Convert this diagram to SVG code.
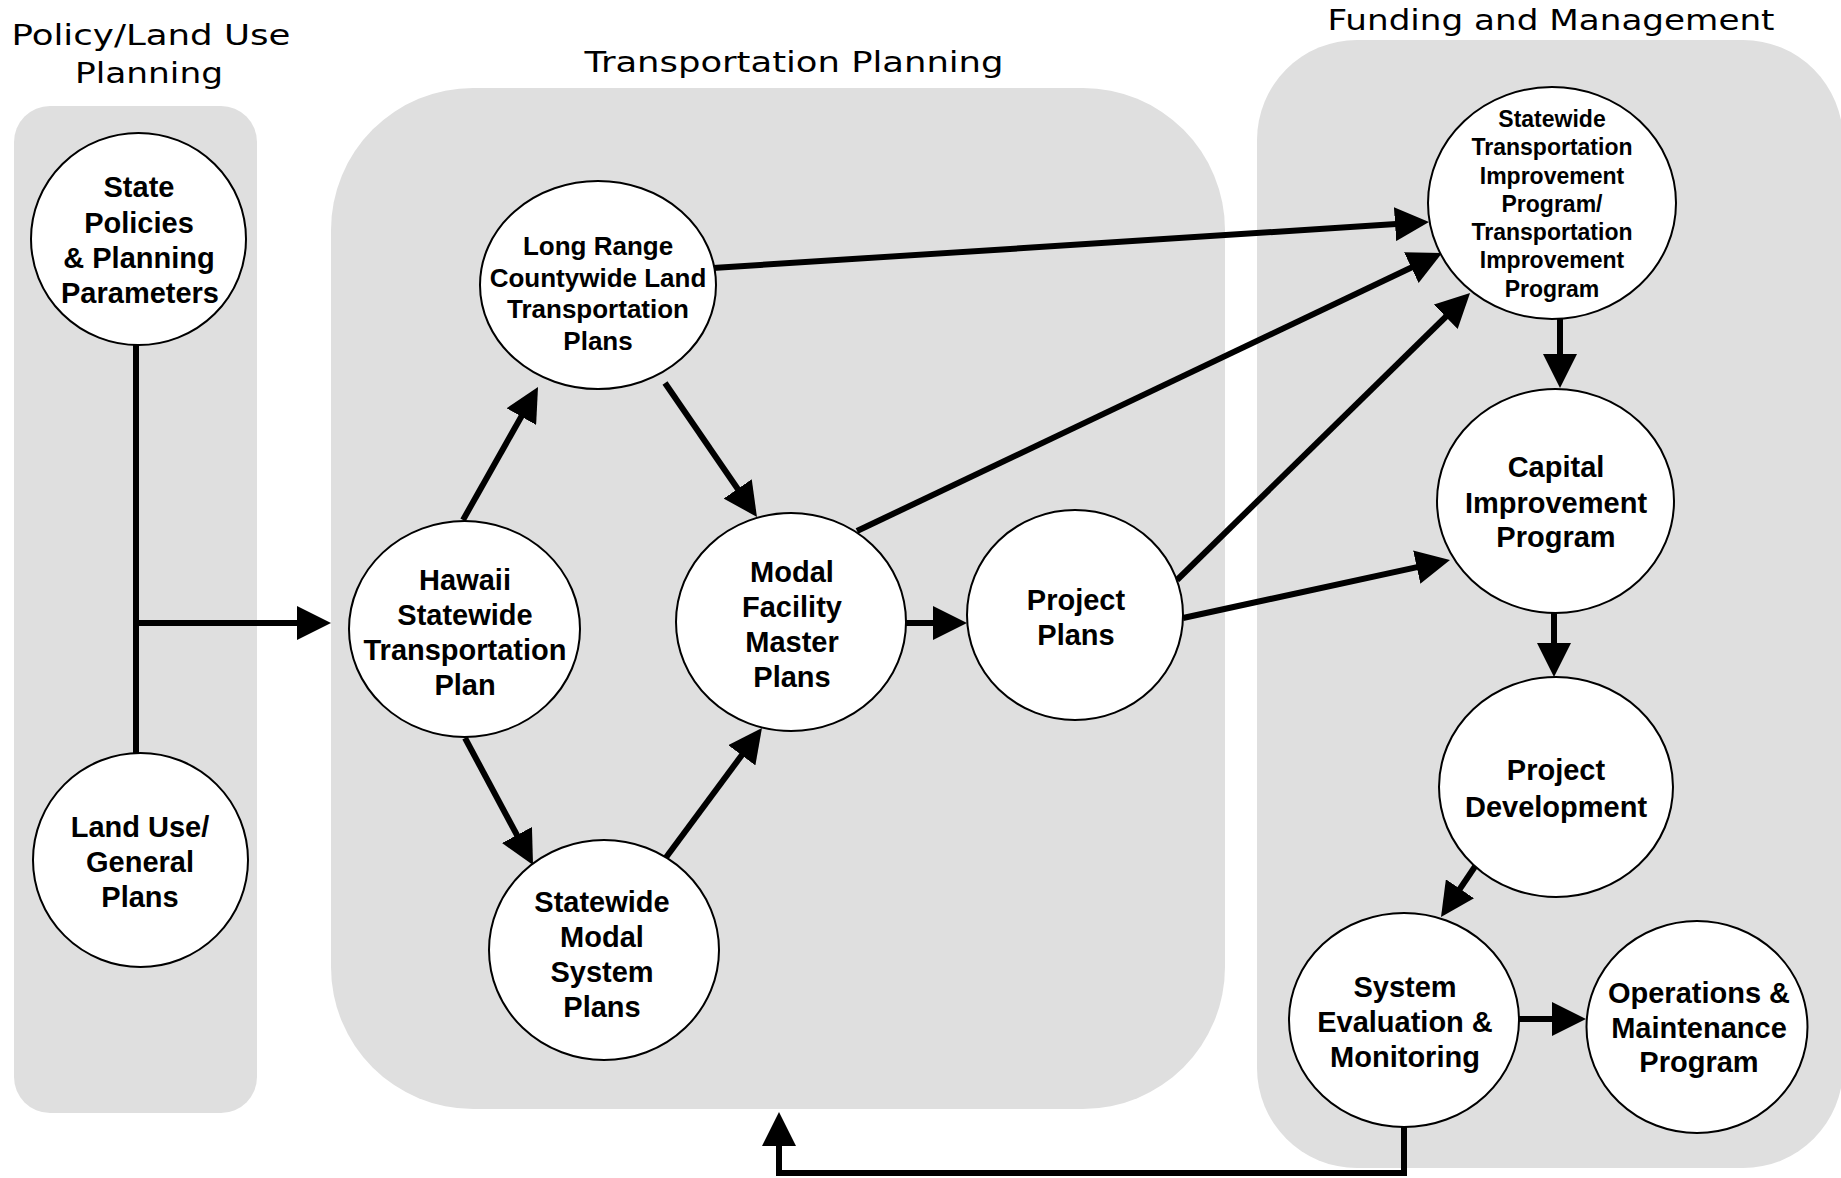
<svg xmlns="http://www.w3.org/2000/svg" width="1841" height="1178" viewBox="0 0 1841 1178">
  <style>
    .panel { fill: #dfdfdf; stroke: none; }
    .title { font-family: "DejaVu Sans", "Liberation Sans", sans-serif; font-size: 29px; fill: #000; text-anchor: middle; }
    .node ellipse { fill: #fff; stroke: #000; stroke-width: 2; }
    .node text { font-family: "Liberation Sans", Arial, sans-serif; font-weight: bold; font-size: 29px; fill: #000; text-anchor: middle; }
    .node.small text { font-size: 26px; }
    .node.tiny text { font-size: 23px; }
    .edge { fill: none; stroke: #000; stroke-width: 6; }
  </style>
  <defs>
    <marker id="arrow" viewBox="0 0 34 34" markerUnits="userSpaceOnUse" markerWidth="34" markerHeight="34" refX="24" refY="17" orient="auto">
      <path d="M0,0 L34,17 L0,34 z" fill="#000"/>
    </marker>
  </defs>

  <rect width="1841" height="1178" fill="#fff"/>

  <!-- swimlane backgrounds -->
  <g id="lanes">
    <rect class="panel" x="14" y="106" width="243" height="1007" rx="36" ry="36"/>
    <rect class="panel" x="331" y="88" width="894" height="1021" rx="142" ry="142"/>
    <rect class="panel" x="1257" y="40" width="586" height="1128" rx="100" ry="100"/>
  </g>

  <g id="titles">
    <text class="title" x="151" y="45" textLength="279" lengthAdjust="spacingAndGlyphs">Policy/Land Use</text>
    <text class="title" x="149" y="83" textLength="148" lengthAdjust="spacingAndGlyphs">Planning</text>
    <text class="title" x="794" y="72" textLength="419" lengthAdjust="spacingAndGlyphs">Transportation Planning</text>
    <text class="title" x="1551" y="30" textLength="447" lengthAdjust="spacingAndGlyphs">Funding and Management</text>
  </g>

  <!-- connectors -->
  <g id="connectors">
    <line class="edge" x1="136" y1="345" x2="136" y2="757"/>
    <line class="edge" x1="133" y1="623" x2="321" y2="623" marker-end="url(#arrow)"/>
    <line class="edge" x1="463" y1="520" x2="533.1" y2="395.7" marker-end="url(#arrow)"/>
    <line class="edge" x1="665" y1="383" x2="751.3" y2="508.7" marker-end="url(#arrow)"/>
    <line class="edge" x1="465" y1="738" x2="528.3" y2="856.2" marker-end="url(#arrow)"/>
    <line class="edge" x1="665.6" y1="858" x2="756" y2="736" marker-end="url(#arrow)"/>
    <line class="edge" x1="905" y1="623" x2="957" y2="623" marker-end="url(#arrow)"/>
    <line class="edge" x1="713" y1="268" x2="1419" y2="222.6" marker-end="url(#arrow)"/>
    <line class="edge" x1="857" y1="531" x2="1433" y2="257.3" marker-end="url(#arrow)"/>
    <line class="edge" x1="1177" y1="580" x2="1462.9" y2="300" marker-end="url(#arrow)"/>
    <line class="edge" x1="1183" y1="618" x2="1440.2" y2="562.1" marker-end="url(#arrow)"/>
    <line class="edge" x1="1560" y1="319" x2="1560" y2="378" marker-end="url(#arrow)"/>
    <line class="edge" x1="1554" y1="613" x2="1554" y2="667" marker-end="url(#arrow)"/>
    <line class="edge" x1="1476" y1="865" x2="1446.6" y2="908.7" marker-end="url(#arrow)"/>
    <line class="edge" x1="1519" y1="1019" x2="1576" y2="1019" marker-end="url(#arrow)"/>
    <path class="edge" d="M1404,1126 V1173 H779 V1122" marker-end="url(#arrow)"/>
  </g>

  <!-- nodes -->
  <g id="state-policies" class="node">
    <ellipse cx="138.5" cy="239" rx="107.5" ry="106"/>
    <text x="139" y="197">State</text>
    <text x="139" y="233">Policies</text>
    <text x="139" y="268">&amp; Planning</text>
    <text x="140" y="303">Parameters</text>
  </g>
  <g id="land-use" class="node">
    <ellipse cx="140.5" cy="860" rx="107.5" ry="107"/>
    <text x="140" y="837">Land Use/</text>
    <text x="140" y="872">General</text>
    <text x="140" y="907">Plans</text>
  </g>
  <g id="long-range" class="node small">
    <ellipse cx="598" cy="285" rx="118" ry="104"/>
    <text x="598" y="255">Long Range</text>
    <text x="598" y="287">Countywide Land</text>
    <text x="598" y="318">Transportation</text>
    <text x="598" y="350">Plans</text>
  </g>
  <g id="hstp" class="node">
    <ellipse cx="464.5" cy="629" rx="115.5" ry="108"/>
    <text x="465" y="590">Hawaii</text>
    <text x="465" y="625">Statewide</text>
    <text x="465" y="660">Transportation</text>
    <text x="465" y="695">Plan</text>
  </g>
  <g id="modal-facility" class="node">
    <ellipse cx="791" cy="622" rx="115" ry="109"/>
    <text x="792" y="582">Modal</text>
    <text x="792" y="617">Facility</text>
    <text x="792" y="652">Master</text>
    <text x="792" y="687">Plans</text>
  </g>
  <g id="project-plans" class="node">
    <ellipse cx="1075" cy="615" rx="108" ry="105"/>
    <text x="1076" y="610">Project</text>
    <text x="1076" y="645">Plans</text>
  </g>
  <g id="statewide-modal" class="node">
    <ellipse cx="604" cy="950" rx="115" ry="110"/>
    <text x="602" y="912">Statewide</text>
    <text x="602" y="947">Modal</text>
    <text x="602" y="982">System</text>
    <text x="602" y="1017">Plans</text>
  </g>
  <g id="stip" class="node tiny">
    <ellipse cx="1552" cy="203" rx="124" ry="116"/>
    <text x="1552" y="127">Statewide</text>
    <text x="1552" y="155">Transportation</text>
    <text x="1552" y="184">Improvement</text>
    <text x="1552" y="212">Program/</text>
    <text x="1552" y="240">Transportation</text>
    <text x="1552" y="268">Improvement</text>
    <text x="1552" y="297">Program</text>
  </g>
  <g id="cip" class="node">
    <ellipse cx="1555.5" cy="501" rx="118.5" ry="112"/>
    <text x="1556" y="477">Capital</text>
    <text x="1556" y="513">Improvement</text>
    <text x="1556" y="547">Program</text>
  </g>
  <g id="project-development" class="node">
    <ellipse cx="1556" cy="787" rx="117" ry="110"/>
    <text x="1556" y="780">Project</text>
    <text x="1556" y="817">Development</text>
  </g>
  <g id="system-evaluation" class="node">
    <ellipse cx="1404" cy="1020" rx="115" ry="107"/>
    <text x="1405" y="997">System</text>
    <text x="1405" y="1032">Evaluation &amp;</text>
    <text x="1405" y="1067">Monitoring</text>
  </g>
  <g id="operations" class="node">
    <ellipse cx="1697" cy="1027" rx="110.5" ry="106"/>
    <text x="1699" y="1003">Operations &amp;</text>
    <text x="1699" y="1038">Maintenance</text>
    <text x="1699" y="1072">Program</text>
  </g>
</svg>
